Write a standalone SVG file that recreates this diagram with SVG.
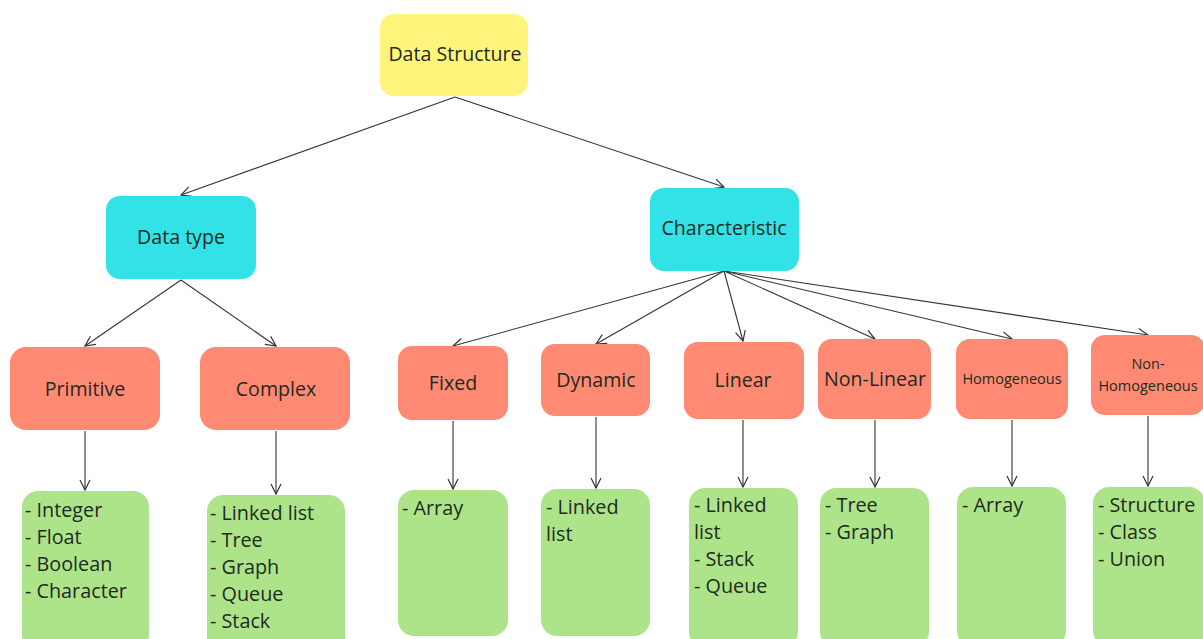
<svg xmlns="http://www.w3.org/2000/svg" width="1203" height="639" viewBox="0 0 1203 639">
<defs>
<marker id="ah" viewBox="0 0 12 12" refX="11" refY="6" markerWidth="12" markerHeight="12" markerUnits="userSpaceOnUse" orient="auto">
<path d="M1,1 L11,6 L1,11" fill="none" stroke="#333" stroke-width="1.2"/>
</marker>
<style>
text{font-family:"Open Sans","Noto Sans",sans-serif;fill:#1e2a1e}
.c{text-anchor:middle;dominant-baseline:central;font-size:19.6px}
.s{font-size:14.5px}
.l{font-size:19.8px}
.y{fill:#fff57c}
.b{fill:#33e2e6}
.o{fill:#ff8a73}
.g{fill:#ade48a}
.e{stroke:#333;stroke-width:1.1;fill:none;marker-end:url(#ah)}
</style>
</defs>
<rect width="1203" height="639" fill="#fff"/>
<g id="connectors">
<line class="e" x1="455" y1="97" x2="181" y2="195"/>
<line class="e" x1="455" y1="97" x2="724" y2="187"/>
<line class="e" x1="181" y1="280" x2="85" y2="346"/>
<line class="e" x1="181" y1="280" x2="276" y2="346"/>
<line class="e" x1="724" y1="271" x2="453" y2="346"/>
<line class="e" x1="724" y1="271" x2="596" y2="344"/>
<line class="e" x1="724" y1="271" x2="743" y2="341"/>
<line class="e" x1="724" y1="271" x2="875" y2="339"/>
<line class="e" x1="724" y1="271" x2="1012" y2="339"/>
<line class="e" x1="724" y1="271" x2="1148" y2="335"/>
<line class="e" x1="85" y1="431" x2="85" y2="490"/>
<line class="e" x1="276" y1="431" x2="276" y2="494"/>
<line class="e" x1="453" y1="421" x2="453" y2="489"/>
<line class="e" x1="596" y1="417" x2="596" y2="488"/>
<line class="e" x1="743" y1="420" x2="743" y2="487"/>
<line class="e" x1="875" y1="420" x2="875" y2="487"/>
<line class="e" x1="1012" y1="420" x2="1012" y2="486"/>
<line class="e" x1="1148" y1="416" x2="1148" y2="486"/>
</g>
<g id="n-datastructure"><rect class="y" x="380" y="14" width="148" height="82" rx="14"/><text class="c" x="455" y="53">Data Structure</text></g>
<g id="n-datatype"><rect class="b" x="106" y="196" width="150" height="83" rx="14"/><text class="c" x="181" y="236">Data type</text></g>
<g id="n-characteristic"><rect class="b" x="650" y="188" width="149" height="83" rx="14"/><text class="c" x="724" y="227">Characteristic</text></g>
<g id="n-primitive"><rect class="o" x="10" y="347" width="150" height="83" rx="16"/><text class="c" x="85" y="388">Primitive</text></g>
<g id="n-complex"><rect class="o" x="200" y="347" width="150" height="83" rx="16"/><text class="c" x="276" y="388">Complex</text></g>
<g id="n-fixed"><rect class="o" x="398" y="346" width="110" height="74" rx="14"/><text class="c" x="453" y="382">Fixed</text></g>
<g id="n-dynamic"><rect class="o" x="541" y="344" width="109" height="72" rx="14"/><text class="c" x="596" y="379">Dynamic</text></g>
<g id="n-linear"><rect class="o" x="684" y="342" width="120" height="77" rx="14"/><text class="c" x="743" y="379">Linear</text></g>
<g id="n-nonlinear"><rect class="o" x="818" y="339" width="113" height="80" rx="14"/><text class="c" x="875" y="378">Non-Linear</text></g>
<g id="n-homogeneous"><rect class="o" x="956" y="339" width="112" height="80" rx="14"/><text class="c s" x="1012" y="378">Homogeneous</text></g>
<g id="n-nonhomogeneous"><rect class="o" x="1091" y="335" width="114" height="80" rx="14"/><text class="c s" x="1148" y="363">Non-</text><text class="c s" x="1148" y="385">Homogeneous</text></g>
<g id="n-primitive-list"><rect class="g" x="22" y="491" width="127" height="160" rx="16"/>
<text class="l" x="25" y="517">- Integer</text><text class="l" x="25" y="544">- Float</text><text class="l" x="25" y="571">- Boolean</text><text class="l" x="25" y="598">- Character</text></g>
<g id="n-complex-list"><rect class="g" x="207" y="495" width="138" height="160" rx="16"/>
<text class="l" x="210" y="520">- Linked list</text><text class="l" x="210" y="547">- Tree</text><text class="l" x="210" y="574">- Graph</text><text class="l" x="210" y="601">- Queue</text><text class="l" x="210" y="628">- Stack</text></g>
<g id="n-fixed-list"><rect class="g" x="398" y="490" width="110" height="146" rx="16"/>
<text class="l" x="402" y="515">- Array</text></g>
<g id="n-dynamic-list"><rect class="g" x="541" y="489" width="109" height="147" rx="16"/>
<text class="l" x="546" y="514">- Linked</text><text class="l" x="546" y="541">list</text></g>
<g id="n-linear-list"><rect class="g" x="689" y="488" width="109" height="160" rx="16"/>
<text class="l" x="694" y="512">- Linked</text><text class="l" x="694" y="539">list</text><text class="l" x="694" y="566">- Stack</text><text class="l" x="694" y="593">- Queue</text></g>
<g id="n-nonlinear-list"><rect class="g" x="820" y="488" width="109" height="160" rx="16"/>
<text class="l" x="825" y="512">- Tree</text><text class="l" x="825" y="539">- Graph</text></g>
<g id="n-homogeneous-list"><rect class="g" x="957" y="487" width="109" height="160" rx="16"/>
<text class="l" x="962" y="512">- Array</text></g>
<g id="n-nonhomogeneous-list"><rect class="g" x="1093" y="487" width="112" height="160" rx="16"/>
<text class="l" x="1098" y="512">- Structure</text><text class="l" x="1098" y="539">- Class</text><text class="l" x="1098" y="566">- Union</text></g>
</svg>
